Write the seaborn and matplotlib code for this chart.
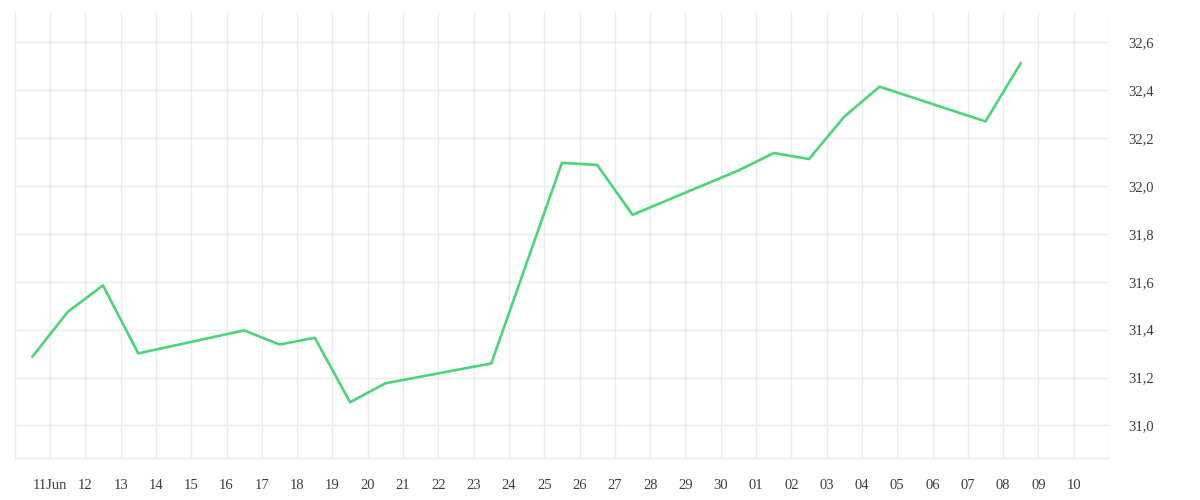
import seaborn as sns
import matplotlib.pyplot as plt
import matplotlib.ticker as mticker
import pandas as pd

# datos diarios (cierre)
fechas = ['2025-06-10', '2025-06-11', '2025-06-12', '2025-06-13', '2025-06-16',
          '2025-06-17', '2025-06-18', '2025-06-19', '2025-06-20', '2025-06-23',
          '2025-06-25', '2025-06-26', '2025-06-27', '2025-06-30', '2025-07-01',
          '2025-07-02', '2025-07-03', '2025-07-04', '2025-07-07', '2025-07-08']
valores = [31.287, 31.474, 31.585, 31.301, 31.397, 31.338, 31.366, 31.097, 31.176, 31.259,
           32.097, 32.088, 31.880, 32.065, 32.138, 32.113, 32.290, 32.415, 32.270, 32.514]

etiquetas_x = ['', '11Jun', '12', '13', '14', '15', '16', '17', '18', '19', '20', '21', '22',
               '23', '24', '25', '26', '27', '28', '29', '30', '01', '02', '03', '04', '05',
               '06', '07', '08', '09', '10', '']
ticks_y = [31.0, 31.2, 31.4, 31.6, 31.8, 32.0, 32.2, 32.4, 32.6]

gris = '#ececec'
verde = '#4cd37b'

sns.set_style('white')
plt.rcParams['font.family'] = ['Liberation Serif', 'DejaVu Serif']

df = pd.DataFrame({'fecha': pd.to_datetime(fechas) + pd.Timedelta(hours=12), 'valor': valores})

fig = plt.figure(figsize=(12, 5), dpi=100)
ax = fig.add_axes([0.01225, 0.084, 0.9120, 0.892])
sns.lineplot(data=df, x='fecha', y='valor', color=verde, linewidth=1.9, ax=ax)

dias = pd.date_range('2025-06-10', '2025-07-11', freq='D')
ax.set_xlim(dias[0], dias[-1])
ax.set_xticks(dias)
ax.set_xticklabels(etiquetas_x)
ax.set_ylim(30.864, 32.727)
ax.set_yticks(ticks_y)
ax.yaxis.set_major_formatter(mticker.FuncFormatter(lambda v, p: f'{v:.1f}'.replace('.', ',')))
ax.yaxis.tick_right()

ax.grid(True, color=gris, linewidth=1)
ax.tick_params(axis='x', length=6.5, width=1, color=gris, pad=8.5, labelsize=10.5, labelcolor='#3d3d3d')
ax.tick_params(axis='y', length=0, pad=13.5, labelsize=10.5, labelcolor='#3d3d3d')
for lado in ['top', 'left', 'right']:
    ax.spines[lado].set_visible(False)
ax.spines['bottom'].set_color(gris)
ax.spines['bottom'].set_linewidth(1)
ax.set_xlabel('')
ax.set_ylabel('')

fig.savefig('out.png', dpi=100)
